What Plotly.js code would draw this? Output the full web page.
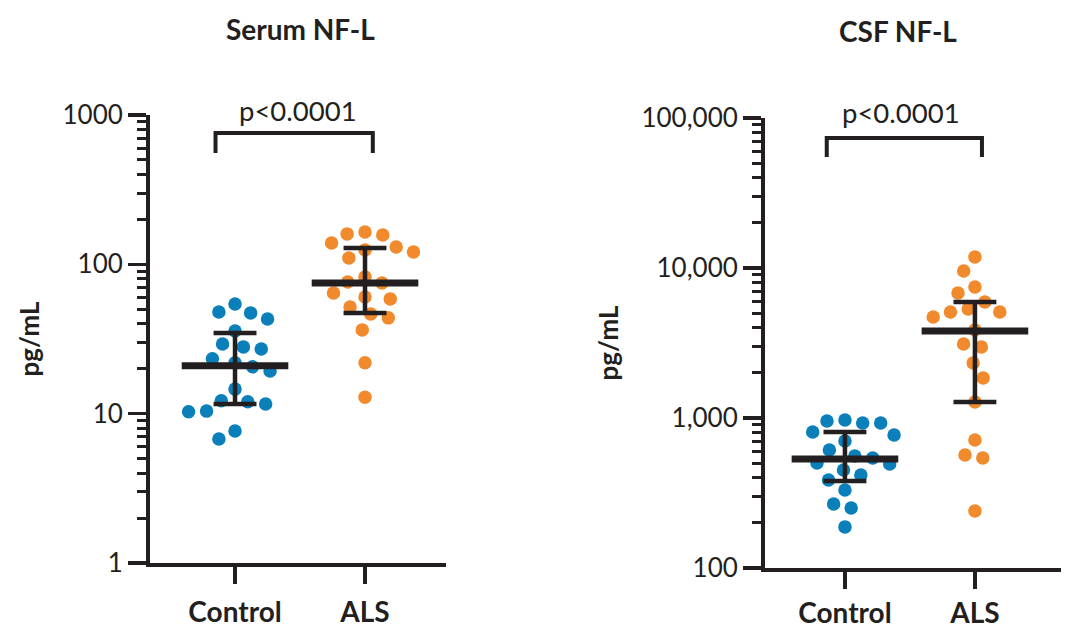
<!DOCTYPE html>
<html>
<head>
<meta charset="utf-8">
<script src="https://cdn.plot.ly/plotly-3.0.1.min.js"></script>
<style>html,body{margin:0;padding:0;background:#fff;}#chart{width:1080px;height:644px;}</style>
</head>
<body>
<div id="chart"></div>
<script>
// ---- Data ----
const groups = ["Control", "ALS"];
const panelTitles = ["Serum NF-L", "CSF NF-L"];
const pLabels = ["p<0.0001", "p<0.0001"];
const yTickVals1 = [1, 10, 100, 1000];
const yTickText1 = ["1", "10", "100", "1000"];
const yTickVals2 = [100, 1000, 10000, 100000];
const yTickText2 = ["100", "1,000", "10,000", "100,000"];

// Serum NF-L (pg/mL)
const serumControl = [54.3, 47.3, 48.0, 43.0, 35.8, 28.0, 27.1, 29.3, 21.9, 23.3,
                      19.3, 20.6, 14.6, 12.2, 10.4, 10.3, 11.6, 12.0, 7.66, 6.77];
const serumALS = [164.8, 159.9, 157.4, 130.8, 121.1, 124.8, 139.0, 110.4, 82.4, 75.1,
                  76.2, 64.3, 51.8, 58.7, 60.5, 46.5, 43.8, 36.4, 21.9, 12.9];
// CSF NF-L (pg/mL)
const csfControl = [970, 955, 926, 926, 807, 770, 703, 612, 501, 494,
                    541, 558, 417, 450, 386, 331, 267, 251, 188];
const csfALS = [11850, 9550, 7470, 6810, 5930, 5090, 5090, 5330, 4710, 3860,
                2975, 3115, 2326, 1848, 1279, 714, 567, 541, 240];

// Median and interquartile range [Control, ALS]
const serumMedian = [20.9, 75.0];
const serumQ1 = [11.6, 47.3];
const serumQ3 = [34.7, 128.8];
const csfMedian = [533, 3800];
const csfQ1 = [380, 1280];
const csfQ3 = [807, 5930];

// ---- Style ----
const W = 1080, H = 644;
const ink = "#231f20";
const blue = "#0a7fba";
const orange = "#f08a2c";
const FONT = "Lato, 'Open Sans', sans-serif";

const xDom1 = [150 / W, 446 / W];
const xDom2 = [765 / W, 1061 / W];
const yDom1 = [(H - 563) / H, (H - 115) / H];
const yDom2 = [(H - 568) / H, (H - 118) / H];
const xRange1 = [-0.654, 1.623];
const xRange2 = [-0.615, 1.662];
const yRange1 = [0, 3];
const yRange2 = [2, 5];

function pxPerX(dom, rng) { return (dom[1] - dom[0]) * W / (rng[1] - rng[0]); }
function pxPerDec(dom, rng) { return (dom[1] - dom[0]) * H / (rng[1] - rng[0]); }

// Beeswarm: place points so that markers don't overlap, nearest to centre line
function swarm(vals, center, pxX, pxY, d) {
  const idx = vals.map((v, i) => i).sort((a, b) => vals[b] - vals[a]);
  const placed = [];
  const out = new Array(vals.length);
  idx.forEach(i => {
    const y = Math.log10(vals[i]) * pxY;
    const ivs = [];
    placed.forEach(p => {
      const dy = Math.abs(p.y - y);
      if (dy < d) {
        const dx = Math.sqrt(d * d - dy * dy);
        ivs.push([p.x - dx, p.x + dx]);
      }
    });
    const cands = [0];
    ivs.forEach(iv => { cands.push(iv[0], iv[1]); });
    cands.sort((a, b) => Math.abs(a) - Math.abs(b) || a - b);
    let best = 0;
    for (const c of cands) {
      if (ivs.every(iv => !(c > iv[0] + 1e-6 && c < iv[1] - 1e-6))) { best = c; break; }
    }
    placed.push({ x: best, y: y });
    out[i] = center + best / pxX;
  });
  return out;
}

const D = 18;
const px1 = pxPerX(xDom1, xRange1), py1 = pxPerDec(yDom1, yRange1);
const px2 = pxPerX(xDom2, xRange2), py2 = pxPerDec(yDom2, yRange2);

function pointsTrace(vals, center, pxX, pxY, color, xa, ya) {
  return {
    type: "scatter", mode: "markers",
    x: swarm(vals, center, pxX, pxY, D), y: vals,
    xaxis: xa, yaxis: ya,
    marker: { color: color, size: 13.5, line: { width: 0 } },
    hoverinfo: "y", showlegend: false
  };
}

function summaryTraces(med, q1, q3, xa, ya) {
  const mx = [], my = [], ex = [], ey = [];
  med.forEach((m, i) => {
    mx.push(i - 0.41, i + 0.41, null); my.push(m, m, null);
    ex.push(i, i, null, i - 0.165, i + 0.165, null, i - 0.165, i + 0.165, null);
    ey.push(q1[i], q3[i], null, q3[i], q3[i], null, q1[i], q1[i], null);
  });
  return [
    { type: "scatter", mode: "lines", x: ex, y: ey, xaxis: xa, yaxis: ya,
      line: { color: ink, width: 4.5 }, hoverinfo: "skip", showlegend: false },
    { type: "scatter", mode: "lines", x: mx, y: my, xaxis: xa, yaxis: ya,
      line: { color: ink, width: 7 }, hoverinfo: "skip", showlegend: false }
  ];
}

const data = [
  pointsTrace(serumControl, 0, px1, py1, blue, "x", "y"),
  pointsTrace(serumALS, 1, px1, py1, orange, "x", "y"),
  ...summaryTraces(serumMedian, serumQ1, serumQ3, "x", "y"),
  pointsTrace(csfControl, 0, px2, py2, blue, "x2", "y2"),
  pointsTrace(csfALS, 1, px2, py2, orange, "x2", "y2"),
  ...summaryTraces(csfMedian, csfQ1, csfQ3, "x2", "y2")
];

function xAxis(dom, rng, standoff) {
  return {
    domain: dom, range: rng, type: "linear",
    tickvals: [0, 1], ticktext: groups,
    ticks: "outside", ticklen: 17, tickwidth: 3.5, tickcolor: ink,
    ticklabelstandoff: standoff,
    showline: true, linewidth: 4, linecolor: ink,
    showgrid: false, zeroline: false, automargin: false,
    tickfont: { family: FONT, size: 28, color: ink, weight: "bold" },
    fixedrange: true
  };
}
function yAxis(dom, rng, vals, text, anchor) {
  return {
    domain: dom, range: rng, type: "log", anchor: anchor,
    tickvals: vals, ticktext: text,
    ticks: "outside", ticklen: 18, tickwidth: 3.5, tickcolor: ink,
    minor: { ticks: "outside", ticklen: 9, tickwidth: 3, tickcolor: ink, dtick: "D1", showgrid: false },
    showline: true, linewidth: 4, linecolor: ink,
    showgrid: false, zeroline: false, automargin: false,
    tickfont: { family: FONT, size: 26, color: ink },
    title: { text: "pg/mL", standoff: 16, font: { family: FONT, size: 26, color: ink, weight: "bold" } },
    fixedrange: true
  };
}

const layout = {
  width: W, height: H,
  margin: { l: 0, r: 0, t: 0, b: 0 },
  paper_bgcolor: "#ffffff", plot_bgcolor: "#ffffff",
  showlegend: false,
  xaxis: { ...xAxis(xDom1, xRange1, 4), anchor: "y" },
  yaxis: yAxis(yDom1, yRange1, yTickVals1, yTickText1, "x"),
  xaxis2: { ...xAxis(xDom2, xRange2, 0), anchor: "y2" },
  yaxis2: yAxis(yDom2, yRange2, yTickVals2, yTickText2, "x2"),
  shapes: [
    { type: "path", xref: "x", yref: "paper",
      path: `M -0.15,${(H - 153) / H} L -0.15,${(H - 133) / H} L 1.06,${(H - 133) / H} L 1.06,${(H - 153) / H}`,
      line: { color: ink, width: 4 } },
    { type: "path", xref: "x2", yref: "paper",
      path: `M -0.14,${(H - 157) / H} L -0.14,${(H - 138) / H} L 1.054,${(H - 138) / H} L 1.054,${(H - 157) / H}`,
      line: { color: ink, width: 4 } }
  ],
  annotations: [
    { text: panelTitles[0], xref: "paper", yref: "paper", x: 300 / W, y: (H - 29) / H,
      xanchor: "center", yanchor: "middle", showarrow: false,
      font: { family: FONT, size: 28, color: ink, weight: "bold" } },
    { text: panelTitles[1], xref: "paper", yref: "paper", x: 898 / W, y: (H - 31) / H,
      xanchor: "center", yanchor: "middle", showarrow: false,
      font: { family: FONT, size: 28, color: ink, weight: "bold" } },
    { text: pLabels[0], xref: "x", yref: "paper", x: 0.485, y: (H - 110) / H,
      xanchor: "center", yanchor: "middle", showarrow: false,
      font: { family: FONT, size: 27.5, color: ink } },
    { text: pLabels[1], xref: "x2", yref: "paper", x: 0.43, y: (H - 112) / H,
      xanchor: "center", yanchor: "middle", showarrow: false,
      font: { family: FONT, size: 27.5, color: ink } }
  ]
};

Plotly.newPlot("chart", data, layout, { displayModeBar: false, staticPlot: true });
</script>
</body>
</html>
